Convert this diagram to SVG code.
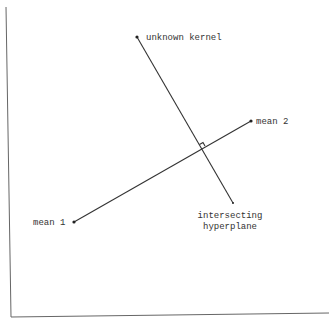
<svg xmlns="http://www.w3.org/2000/svg" width="329" height="321" viewBox="0 0 329 321">
<style>
.lbl{font-family:"Liberation Mono","DejaVu Sans Mono",monospace;font-size:9px;fill:#333}
.ln{stroke:#333;stroke-width:1.1;fill:none}
.frame{stroke:#666;stroke-width:1;fill:none}
.dot{fill:#222}
</style>
<rect width="329" height="321" fill="#fff"/>
<g id="frame">
<line class="frame" x1="6" y1="7" x2="11" y2="317"/>
<line class="frame" x1="11" y1="317" x2="329" y2="313"/>
</g>
<g id="connectors">
<line class="ln" x1="74" y1="222" x2="251" y2="121"/>
<line class="ln" x1="137" y1="37" x2="233" y2="203"/>
<path class="ln" d="M199.5,144.5 L203,142.5 L205,146" stroke-width="0.9"/>
</g>
<g id="unknown-kernel">
<circle class="dot" cx="137" cy="37" r="1.6"/>
<text class="lbl" x="146" y="40">unknown kernel</text>
</g>
<g id="mean-2">
<circle class="dot" cx="251" cy="121" r="1.6"/>
<text class="lbl" x="256" y="124">mean 2</text>
</g>
<g id="mean-1">
<circle class="dot" cx="74" cy="222" r="1.6"/>
<text class="lbl" x="33" y="225">mean 1</text>
</g>
<g id="hyperplane">
<circle class="dot" cx="233" cy="203" r="1"/>
<text class="lbl" x="230" y="218" text-anchor="middle">intersecting</text>
<text class="lbl" x="230" y="229" text-anchor="middle">hyperplane</text>
</g>
</svg>
